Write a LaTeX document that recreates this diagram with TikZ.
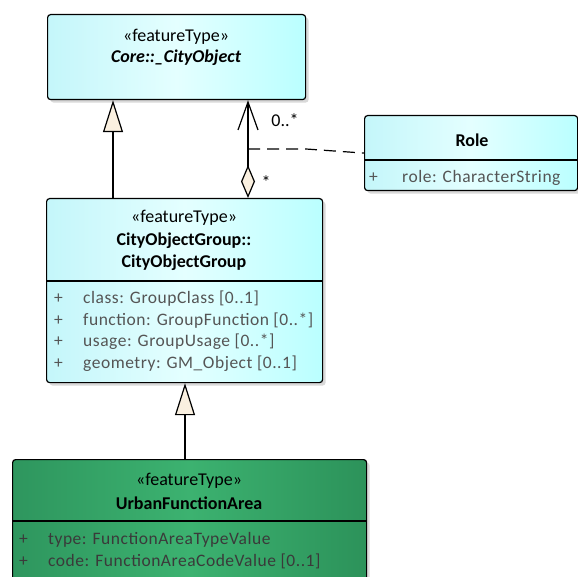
\documentclass[tikz,border=0pt]{standalone}
\usepackage{fontspec}
\setmainfont{Carlito}
\newfontfamily\attrfont[LetterSpace=3]{Carlito}
\usetikzlibrary{arrows.meta,shadows,positioning,calc}

\definecolor{cyanL}{RGB}{196,246,250}
\definecolor{cyanM}{RGB}{228,255,255}
\definecolor{cyanR}{RGB}{186,255,255}
\definecolor{greenL}{RGB}{46,150,94}
\definecolor{greenM}{RGB}{60,178,112}
\definecolor{greenR}{RGB}{44,146,90}
\definecolor{tipfill}{RGB}{250,240,224}
\definecolor{attrgray}{RGB}{85,85,85}
\definecolor{attrdark}{RGB}{58,58,58}

\tikzset{
  umlbox/.style={draw, line width=1.2pt, rounded corners=3pt, anchor=north west, inner sep=0pt,
    drop shadow={shadow xshift=3pt, shadow yshift=-3pt, fill=black!15, opacity=1}},
  cyanbox/.style={umlbox, left color=cyanL, right color=cyanR, middle color=cyanM},
  greenbox/.style={umlbox, left color=greenL, right color=greenR, middle color=greenM},
  hdr/.style={inner sep=0pt, font=\fontsize{18}{20}\selectfont},
  hdrb/.style={hdr, font=\fontsize{18}{20}\selectfont\bfseries},
  attr/.style={inner sep=0pt, anchor=west, text=attrgray, font=\attrfont\fontsize{17.5}{20}\selectfont},
  divider/.style={line width=1.2pt},
  gen/.style={line width=1.2pt, -{Triangle[width=20pt,length=32pt,fill=tipfill]}},
  agg/.style={line width=1.2pt, {Diamond[width=14pt,length=33pt,fill=tipfill]}-{Straight Barb[width=20pt,length=28pt]}},
  assocline/.style={line width=1.2pt, dash pattern=on 12pt off 7pt},
}

\begin{document}
\begin{tikzpicture}[x=1pt,y=-1pt]
  \useasboundingbox (0,0) rectangle (578,577);

  % Core::_CityObject
  \node[cyanbox, minimum width=258pt, minimum height=85pt] (core) at (47,14) {};
  \node[hdr] (coreSt) at (176,37) {«featureType»};
  \node[hdrb, font=\fontsize{18}{20}\selectfont\bfseries\itshape] (coreNm) at (176,58) {Core::\_CityObject};

  % Role (association class)
  \node[cyanbox, minimum width=213pt, minimum height=75pt] (role) at (364,115) {};
  \node[hdrb] (roleNm) at (472,140) {Role};
  \draw[divider] ($(role.north west)+(0,45)$) -- ($(role.north east)+(0,45)$);
  \node[attr] (rolePl) at (369,178) {+};
  \node[attr] (roleAt) at (402,178) {role: CharacterString};

  % CityObjectGroup
  \node[cyanbox, minimum width=276pt, minimum height=184pt] (cog) at (46,198) {};
  \node[hdr] (cogSt) at (184,218) {«featureType»};
  \node[hdrb] (cogPk) at (184,241) {CityObjectGroup::};
  \node[hdrb] (cogNm) at (184,263) {CityObjectGroup};
  \draw[divider] ($(cog.north west)+(0,83)$) -- ($(cog.north east)+(0,83)$);
  \foreach \txt [count=\i] in {{class: GroupClass [0..1]},{function: GroupFunction [0..*]},
      {usage: GroupUsage [0..*]},{geometry: GM\_Object [0..1]}} {
    \node[attr] (cogPl\i) at (54,{277+21.7*\i}) {+};
    \node[attr] (cogAt\i) at (83,{277+21.7*\i}) {\txt};
  }

  % UrbanFunctionArea
  \node[greenbox, minimum width=354pt, minimum height=160pt] (ufa) at (12,459) {};
  \node[hdr] (ufaSt) at (189,481) {«featureType»};
  \node[hdrb] (ufaNm) at (189,503) {UrbanFunctionArea};
  \draw[divider] ($(ufa.north west)+(0,62)$) -- ($(ufa.north east)+(0,62)$);
  \foreach \txt [count=\i] in {{type: FunctionAreaTypeValue},{code: FunctionAreaCodeValue [0..1]}} {
    \node[attr, text=attrdark] (ufaPl\i) at (19,{518+21.7*\i}) {+};
    \node[attr, text=attrdark] (ufaAt\i) at (48,{518+21.7*\i}) {\txt};
  }

  % Generalizations
  \coordinate (genA) at (113,0);
  \coordinate (genB) at (185,0);
  \draw[gen] (cog.north -| genA) -- (core.south -| genA);
  \draw[gen] (ufa.north -| genB) -- (cog.south -| genB);

  % Aggregation with its association class
  \coordinate (aggX) at (248,0);
  \draw[agg] (cog.north -| aggX) -- (core.south -| aggX);
  \node[hdr] (lblMany) at (285,120) {0..*};
  \node[hdr] (lblAgg) at (266,182) {*};
  \coordinate (assoc) at (248,149);
  \coordinate (bend) at (306,149);
  \draw[assocline] (assoc) -- (bend) -- (role.west);
\end{tikzpicture}
\end{document}
